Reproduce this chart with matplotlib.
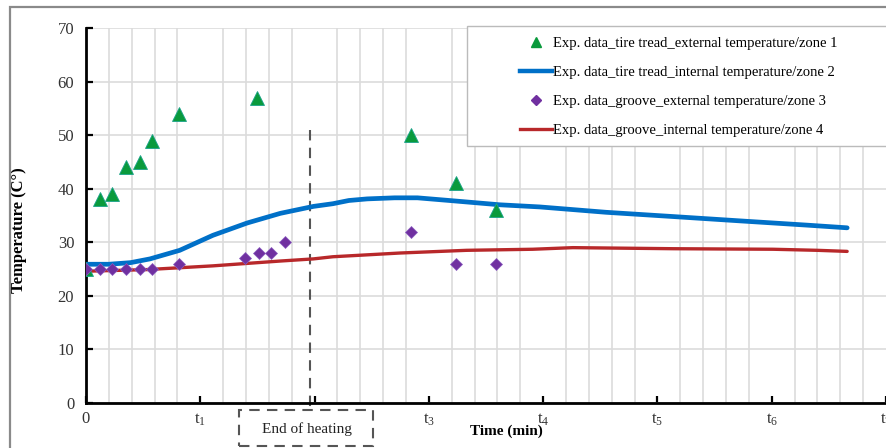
import matplotlib
matplotlib.use("Agg")
import matplotlib.pyplot as plt
from matplotlib.patches import Rectangle
from matplotlib.lines import Line2D

plt.rcParams['font.family'] = ['Liberation Serif', 'DejaVu Serif']
plt.rcParams['mathtext.fontset'] = 'custom'
plt.rcParams['mathtext.rm'] = 'Liberation Serif'
plt.rcParams['mathtext.it'] = 'Liberation Serif'

# measured temperatures
tread_ext_t = [0, 0.12, 0.23, 0.35, 0.47, 0.58, 0.81, 1.50, 2.84, 3.24, 3.59]
tread_ext_T = [25, 38, 39, 44, 45, 49, 54, 57, 50, 41, 36]

tread_int_t = [0, 0.2, 0.39, 0.56, 0.82, 1.11, 1.41, 1.70, 1.99, 2.16, 2.30, 2.46,
               2.70, 2.90, 3.18, 3.62, 3.97, 4.55, 5.14, 5.72, 6.31, 6.66]
tread_int_T = [25.9, 25.9, 26.2, 26.9, 28.5, 31.3, 33.6, 35.4, 36.7, 37.2, 37.8, 38.1,
               38.3, 38.3, 37.8, 37.0, 36.6, 35.6, 34.8, 34.0, 33.2, 32.7]

groove_ext_t = [0, 0.12, 0.23, 0.35, 0.47, 0.58, 0.81, 1.39, 1.51, 1.62, 1.74, 2.84, 3.24, 3.59]
groove_ext_T = [25, 25, 25, 25, 25, 25, 26, 27, 28, 28, 30, 32, 26, 26]

groove_int_t = [0, 0.53, 1.11, 1.70, 1.99, 2.16, 2.75, 3.33, 3.91, 4.26, 5.14, 6.01, 6.40, 6.66]
groove_int_T = [24.6, 24.9, 25.6, 26.5, 26.9, 27.3, 28.0, 28.5, 28.7, 29.0, 28.8, 28.7, 28.5, 28.3]

tick_pos = [0, 1, 2, 3, 4, 5, 6, 7]
# t2 sits under the "End of heating" box, so it is left blank
tick_lab = ['0', r'$\mathregular{t_1}$', '', r'$\mathregular{t_3}$',
            r'$\mathregular{t_4}$', r'$\mathregular{t_5}$', r'$\mathregular{t_6}$', r'$\mathregular{t_7}$']
heating_end = 1.96

labels = ['Exp. data_tire tread_external temperature/zone 1',
          'Exp. data_tire tread_internal temperature/zone 2',
          'Exp. data_groove_external temperature/zone 3',
          'Exp. data_groove_internal temperature/zone 4']

green = '#0a9a3c'
blue = '#0070c8'
purple = '#7030a0'
red = '#b8282a'

W, H = 887, 448
fig = plt.figure(figsize=(W / 100, H / 100), dpi=100)
ax = fig.add_axes([86 / W, 1 - 403 / H, 800 / W, 375 / H])

ax.set_xlim(0, 7)
ax.set_ylim(0, 70)

# grid: minor verticals every 0.2, horizontals every 10
ax.set_xticks(tick_pos)
ax.set_xticks([i * 0.2 for i in range(36)], minor=True)
ax.set_yticks(range(0, 71, 10))
ax.grid(True, which='minor', axis='x', color='#dcdcdc', lw=1.2)
ax.grid(True, which='major', axis='y', color='#dcdcdc', lw=1.2)
ax.set_axisbelow(True)
ax.set_xticklabels(tick_lab)

for s in ['top', 'right']:
    ax.spines[s].set_visible(False)
for s in ['left', 'bottom']:
    ax.spines[s].set_color('black')
    ax.spines[s].set_linewidth(2)

ax.tick_params(axis='both', which='major', direction='in', length=5, width=1.6,
               labelsize=12, colors='black', labelcolor='#333333')
ax.tick_params(axis='x', which='major', pad=6)
ax.tick_params(axis='y', which='major', pad=8.5)
ax.tick_params(axis='x', which='minor', length=0)

ax.plot(tread_int_t, tread_int_T, color=blue, lw=3.4, solid_capstyle='round', zorder=3)
ax.plot(groove_int_t, groove_int_T, color=red, lw=2.4, solid_capstyle='round', zorder=3)
ax.plot(tread_ext_t, tread_ext_T, ls='none', marker='^', ms=9.5, color=green,
        mec='#1aa38a', mew=0.6, zorder=4)
ax.plot(groove_ext_t, groove_ext_T, ls='none', marker='D', ms=6, color=purple,
        mec='#8a5cc0', mew=0.5, zorder=5)

# end of heating marker
ax.plot([heating_end, heating_end], [51, -1.3], color='#555555', lw=1.5,
        ls=(0, (5, 3.5)), clip_on=False, zorder=2)
fig.patches.append(Rectangle((239 / W, 1 - 446 / H), 134 / W, 36 / H,
                             transform=fig.transFigure, facecolor='white',
                             edgecolor='#555555', lw=1.5, ls=(0, (5, 3.5)), zorder=10))
fig.text(307 / W, 1 - 429 / H, 'End of heating', ha='center', va='center',
         fontsize=11, color='#222222', zorder=11)

fig.text(19 / W, 1 - 230 / H, 'Temperature (C°)', rotation=90, ha='center', va='center',
         fontsize=12, fontweight='bold')
fig.text(506 / W, 1 - 431 / H, 'Time (min)', ha='center', va='center',
         fontsize=11, fontweight='bold')

# legend frame and entries
fig.patches.append(Rectangle((467 / W, 1 - 146 / H), 440 / W, 120 / H,
                             transform=fig.transFigure, facecolor='white',
                             edgecolor='#bbbbbb', lw=1.0, zorder=8))
handles = [Line2D([], [], ls='none', marker='^', ms=7, color=green),
           Line2D([], [], color=blue, lw=3.2),
           Line2D([], [], ls='none', marker='D', ms=5, color=purple),
           Line2D([], [], color=red, lw=2.4)]
leg = fig.legend(handles, labels, loc='upper left', bbox_to_anchor=(510 / W, 1 - 27 / H),
                 frameon=False, fontsize=10.5, handlelength=2.2, handletextpad=0.08,
                 labelspacing=1.08, borderpad=0.2)
leg.set_zorder(9)

# outer frame
fig.patches.append(Rectangle((10 / W, -0.05), 1.1, 1 - 7 / H + 0.05,
                             transform=fig.transFigure, fill=False,
                             edgecolor='#8a8a8a', lw=1.6, zorder=12))

fig.savefig('out.png', dpi=100)
